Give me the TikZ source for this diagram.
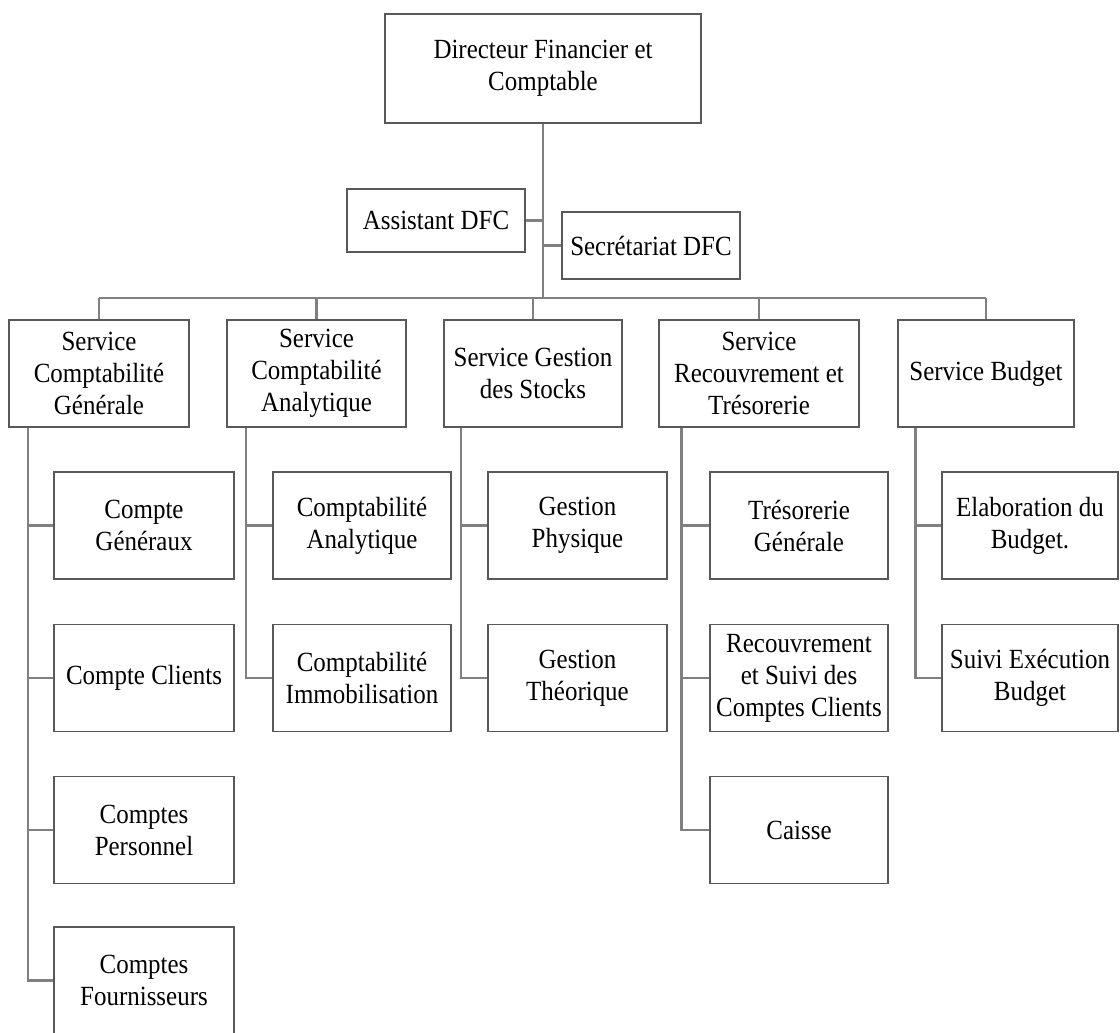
\documentclass[tikz,border=0pt]{standalone}
\usepackage{fontspec}
\setmainfont{Liberation Serif}[FakeStretch=0.9]
\begin{document}
\begin{tikzpicture}[x=0.75pt,y=-0.75pt,
  box/.style={draw=black!65, line width=0.8pt, fill=white, align=center, inner sep=1pt,
    minimum height=80.25pt, font=\fontsize{20.8pt}{24pt}\selectfont, text=black},
  conn/.style={draw=black!50, line width=1.7pt}]
\useasboundingbox (0,0) rectangle (1120,1032);
\clip (0,0) rectangle (1120,1032);
% top levels
\node[box, minimum width=237pt, minimum height=81.75pt] (top) at (543,68.5) {Directeur Financier et\\Comptable};
\node[box, minimum width=133.5pt, minimum height=47.25pt] (asst) at (436,220.5) {Assistant DFC};
\node[box, minimum width=133.5pt, minimum height=50.25pt] (sec) at (651,245.5) {Secrétariat DFC};
% services
\node[box, minimum width=135pt] (s1) at (99,373.5) {Service\\Comptabilité\\Générale};
\node[box, minimum width=134.25pt] (s2) at (316.5,373.5) {Service\\Comptabilité\\Analytique};
\node[box, minimum width=133.5pt] (s3) at (533,373.5) {Service Gestion\\des Stocks};
\node[box, minimum width=150pt] (s4) at (759,373.5) {Service\\Recouvrement et\\Trésorerie};
\node[box, minimum width=132pt] (s5) at (986,373.5) {Service Budget};
% sub units
\node[box, minimum width=135pt] (a1) at (144,525.5) {Compte\\Généraux};
\node[box, minimum width=135pt] (a2) at (144,678) {Compte Clients};
\node[box, minimum width=135pt] (a3) at (144,830) {Comptes\\Personnel};
\node[box, minimum width=135pt] (a4) at (144,980.5) {Comptes\\Fournisseurs};
\node[box, minimum width=133.5pt] (b1) at (362,525.5) {Comptabilité\\Analytique};
\node[box, minimum width=133.5pt] (b2) at (362,678) {Comptabilité\\Immobilisation};
\node[box, minimum width=134.25pt] (c1) at (577.5,525.5) {Gestion\\Physique};
\node[box, minimum width=134.25pt] (c2) at (577.5,678) {Gestion\\Théorique};
\node[box, minimum width=133.5pt] (d1) at (799,525.5) {Trésorerie\\Générale};
\node[box, minimum width=133.5pt] (d2) at (799,678) {Recouvrement\\et Suivi des\\Comptes Clients};
\node[box, minimum width=133.5pt] (d3) at (799,830) {Caisse};
\node[box, minimum width=132pt] (e1) at (1030,525.5) {Elaboration du\\Budget.};
\node[box, minimum width=132pt] (e2) at (1030,678) {Suivi Exécution\\Budget};
% guide coordinates
\coordinate (bar) at (543,298);
\coordinate (l1) at (28,0);
\coordinate (l2) at (246,0);
\coordinate (l3) at (461,0);
\coordinate (l4) at (681.5,0);
\coordinate (l5) at (915.5,0);
% connectors
\draw[conn] (top.south) -- (bar);
\draw[conn] (asst.east) -- (asst.east -| top.south);
\draw[conn] (sec.west) -- (sec.west -| top.south);
\draw[conn] (bar -| s1.north) -- (bar -| s5.north);
\foreach \s in {s1,s2,s3,s4,s5} \draw[conn] (bar -| \s.north) -- (\s.north);
\foreach \a in {a1,a2,a3,a4} \draw[conn] (l1 |- s1.south) |- (\a.west);
\foreach \a in {b1,b2} \draw[conn] (l2 |- s2.south) |- (\a.west);
\foreach \a in {c1,c2} \draw[conn] (l3 |- s3.south) |- (\a.west);
\foreach \a in {d1,d2,d3} \draw[conn] (l4 |- s4.south) |- (\a.west);
\foreach \a in {e1,e2} \draw[conn] (l5 |- s5.south) |- (\a.west);
\end{tikzpicture}
\end{document}
